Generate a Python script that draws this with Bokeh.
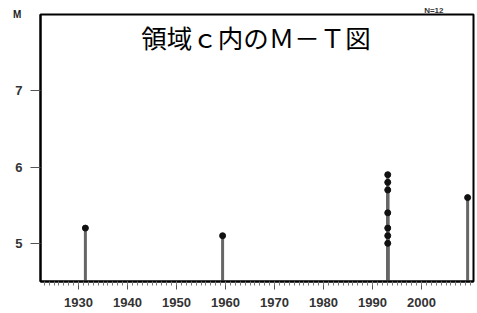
from bokeh.plotting import figure
from bokeh.models import FixedTicker, Label, Range1d
from bokeh.embed import file_html
from bokeh.resources import INLINE

# data
years = [1931.4, 1959.4, 1993.1, 1993.1, 1993.1, 1993.1, 1993.1, 1993.1, 1993.1, 2009.4]
mags = [5.2, 5.1, 5.9, 5.8, 5.7, 5.4, 5.2, 5.1, 5.0, 5.6]
x_ticks = [1930, 1940, 1950, 1960, 1970, 1980, 1990, 2000]
x_minor = list(range(1923, 2011))
y_ticks = [5, 6, 7]
title_text = "領域ｃ内のＭ－Ｔ図"
count_text = "N=12"
y_name = "M"

Y0, Y1 = 4.5, 8.0
p = figure(width=477, height=313, output_backend="svg", toolbar_location=None,
           x_range=Range1d(1922.24, 2010.6), y_range=Range1d(Y0, Y1),
           min_border_left=40, min_border_right=4, min_border_top=14, min_border_bottom=32)
p.grid.visible = False
p.outline_line_color = "black"
p.outline_line_width = 2
p.background_fill_color = "white"
p.border_fill_color = "white"

# small "N=12" note above the frame, right side
p.title.text = count_text
p.title.align = "right"
p.title.text_font = "Liberation Sans"
p.title.text_font_size = "8px"
p.title.text_font_style = "bold"
p.title.text_color = "#333"
p.title.standoff = 0
p.title.offset = 30

p.xaxis.ticker = FixedTicker(ticks=x_ticks, minor_ticks=x_minor)
p.yaxis.ticker = FixedTicker(ticks=y_ticks)
for ax in (p.xaxis, p.yaxis):
    ax.axis_line_color = "black"
    ax.axis_line_width = 2
    ax.major_tick_in = 0
    ax.minor_tick_in = 0
    ax.major_tick_line_color = "#555"
    ax.minor_tick_line_color = "#777"
    ax.major_label_text_font = "Liberation Sans"
    ax.major_label_text_font_size = "13px"
    ax.major_label_text_font_style = "bold"
    ax.major_label_text_color = "#333"
p.xaxis.major_tick_out = 8
p.xaxis.minor_tick_out = 4
p.xaxis.major_label_standoff = 8
p.yaxis.major_tick_out = 10
p.yaxis.minor_tick_out = 0
p.yaxis.major_label_standoff = 8

# "M" at top of the y axis
try:
    p.yaxis.axis_label_align = "end"
    p.yaxis.axis_label = y_name
    p.yaxis.axis_label_orientation = "horizontal"
    p.yaxis.axis_label_text_font = "Liberation Sans"
    p.yaxis.axis_label_text_font_size = "10px"
    p.yaxis.axis_label_text_font_style = "bold"
    p.yaxis.axis_label_text_color = "#222"
    p.yaxis.axis_label_standoff = -9
except Exception:
    pass

p.segment(x0=years, y0=[Y0] * len(years), x1=years, y1=mags,
          line_color="#666", line_width=3)
p.scatter(years, mags, size=6, color="#111")

p.add_layout(Label(x=1966.2, y=7.71, text=title_text, text_font="Noto Sans CJK JP",
                   text_font_size="25.5px", text_align="center", text_baseline="middle",
                   text_color="black"))

open("out.html", "w").write(file_html(p, INLINE))
